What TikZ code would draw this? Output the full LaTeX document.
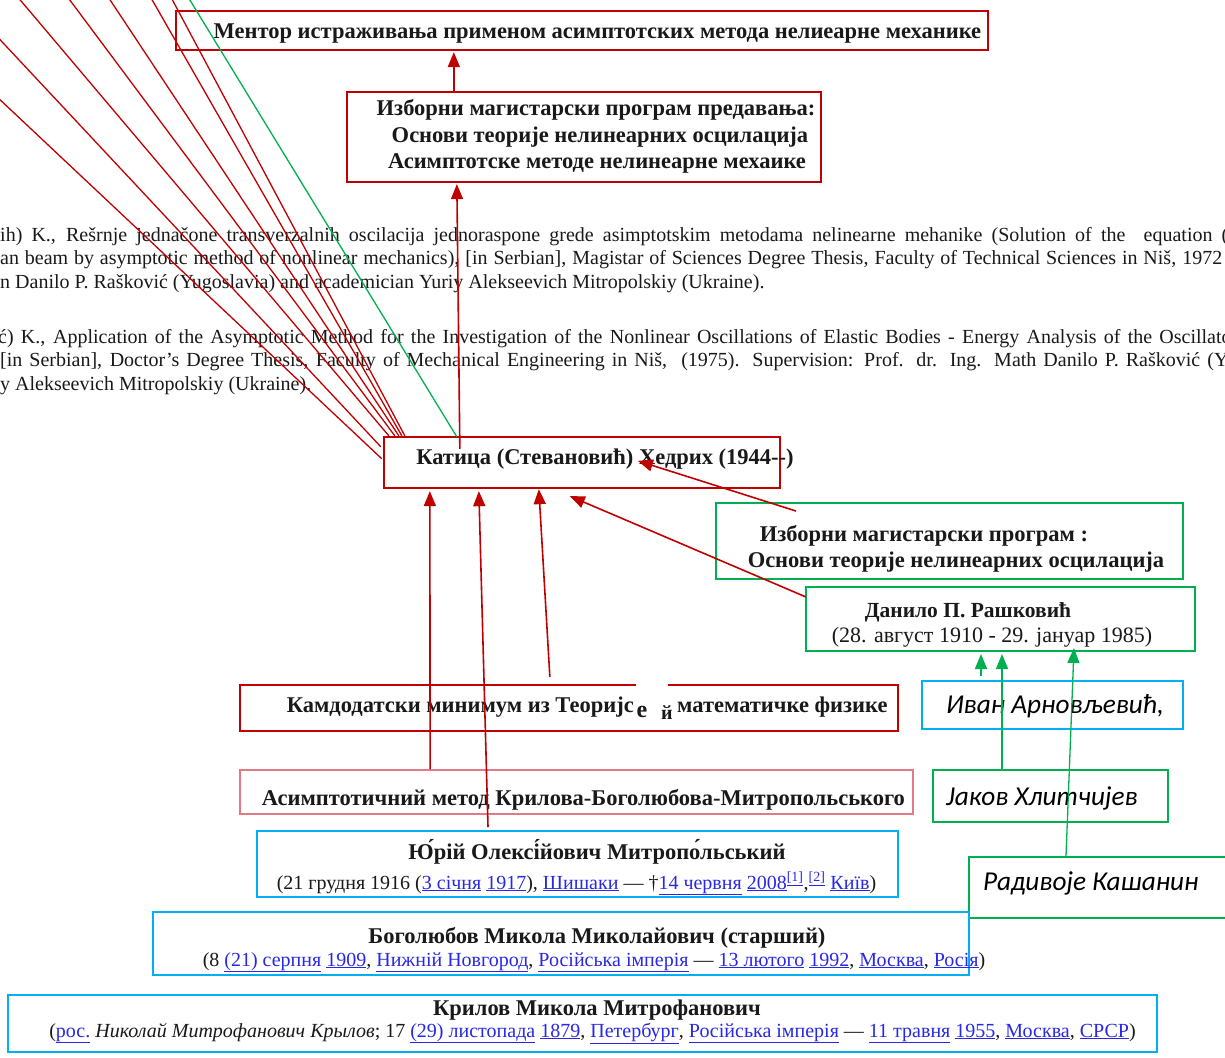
\documentclass[tikz,border=0pt]{standalone}
\usepackage{fontspec}
\setmainfont{Liberation Serif}
\newfontfamily\calib{Carlito}
\usetikzlibrary{arrows.meta,calc}
\definecolor{dred}{HTML}{C00000}
\definecolor{dgreen}{HTML}{00B050}
\definecolor{dcyan}{HTML}{00B0F0}
\definecolor{pinkb}{RGB}{228,120,135}
\definecolor{lnkblue}{RGB}{40,40,230}
\definecolor{txtgray}{RGB}{25,25,25}
\newcommand{\lk}[1]{{\color{lnkblue}\underline{#1}}}
\begin{document}
\begin{tikzpicture}[x=1pt,y=-1pt,
  rbox/.style={draw=dred, line width=2.3pt, inner sep=0pt},
  gbox/.style={draw=dgreen, line width=2pt, inner sep=0pt},
  cbox/.style={draw=dcyan, line width=2pt, inner sep=0pt},
  pbox/.style={draw=pinkb, line width=1.8pt, inner sep=0pt},
  bt/.style={font=\fontsize{22.5}{26}\selectfont\bfseries, inner sep=0pt, anchor=base, text=txtgray},
  rt/.style={font=\fontsize{20}{24}\selectfont, inner sep=0pt, anchor=base, text=txtgray},
  pt/.style={font=\fontsize{20}{24}\selectfont, inner sep=0pt, anchor=base west, text=txtgray},
  ct/.style={font=\fontsize{27.3}{31}\selectfont\calib\itshape, inner sep=0pt, anchor=base west, text=black},
  ra/.style={draw=dred, line width=1.6pt, -{Triangle[length=15pt,width=12pt]}},
  ga/.style={draw=dgreen, line width=1.8pt, -{Triangle[length=15pt,width=12pt]}},
  rl/.style={draw=dred, line width=1.3pt},
  gl/.style={draw=dgreen, line width=1.3pt}]
\useasboundingbox (0,0) rectangle (1225,1057);
\fill[white] (0,0) rectangle (1225,1057);
\clip (0,0) rectangle (1225,1057);

% reference paragraphs
\node[pt] (p1a) at (0,241) {\makebox[1228pt][s]{ih) K., Rešrnje jednačone transverzalnih oscilacija jednoraspone grede asimptotskim metodama nelinearne mehanike (Solution of the\ \ equation (}};
\node[pt] (p1b) at (0,264) {\makebox[1222pt][s]{an beam by asymptotic method of nonlinear mechanics), [in Serbian], Magistar of Sciences Degree Thesis, Faculty of Technical Sciences in Niš, 1972}};
\node[pt] (p1c) at (0,288) {n Danilo P. Rašković (Yugoslavia) and academician Yuriy Alekseevich Mitropolskiy (Ukraine).};
\node[pt] (p2a) at (-2,343) {\makebox[1240pt][s]{ć) K., Application of the Asymptotic Method for the Investigation of the Nonlinear Oscillations of Elastic Bodies - Energy Analysis of the Oscillator}};
\node[pt] (p2b) at (0,366) {\makebox[1236pt][s]{[in Serbian], Doctor’s Degree Thesis, Faculty of Mechanical Engineering in Niš,\ \ (1975). Supervision: Prof. dr. Ing. Math Danilo P. Rašković (Yu}};
\node[pt] (p2c) at (0,390) {y Alekseevich Mitropolskiy (Ukraine).};

% boxes
\node[rbox, minimum width=812pt, minimum height=39pt] (mentor) at (582,30.5) {};
\node[rbox, minimum width=474pt, minimum height=90pt] (izbm) at (584,137) {};
\node[rbox, minimum width=396pt, minimum height=51pt] (kat) at (582,462.5) {};
\node[gbox, minimum width=467pt, minimum height=76pt] (izbg) at (949.5,541) {};
\node[gbox, minimum width=389pt, minimum height=64pt] (dan) at (1000.5,619) {};
\node[cbox, minimum width=261pt, minimum height=48pt] (ivan) at (1052.5,705) {};
\node[gbox, minimum width=235pt, minimum height=52pt] (jakov) at (1050.5,796) {};
\node[gbox, minimum width=270pt, minimum height=61pt] (rad) at (1104,887.5) {};
\node[rbox, minimum width=658pt, minimum height=46pt] (kand) at (569,708) {};
\node[pbox, minimum width=673pt, minimum height=44pt] (asim) at (576.5,792) {};
\node[cbox, minimum width=641pt, minimum height=66pt] (mit) at (577.5,864) {};
\node[cbox, minimum width=816pt, minimum height=63pt] (bog) at (561,943.5) {};
\node[cbox, minimum width=1149pt, minimum height=57pt] (kry) at (582.5,1023.5) {};

% texts
\node[bt] (tmentor) at (597.5,39) {Ментор истраживања применом асимптотских метода нелиеарне механике};
\node[bt] (tizb1) at (596,115) {Изборни магистарски програм предавања:};
\node[bt] (tizb2) at (600,142) {Основи теорије нелинеарних осцилација};
\node[bt] (tizb3) at (597,168) {Асимптотске методе нелинеарне мехаике};
\node[bt] (tkat) at (605,464) {Катица (Стевановић) Хедрих (1944-{}-)};
\node[bt] (tizg1) at (924,541) {Изборни магистарски програм :};
\node[bt] (tizg2) at (956,567) {Основи теорије нелинеарних осцилација};
\node[bt, font=\fontsize{21.5}{25}\selectfont\bfseries] (tdan1) at (968,617) {Данило П. Рашковић};
\node[rt, font=\fontsize{22}{26}\selectfont] (tdan2) at (992,642) {(28. август 1910 - 29. јануар 1985)};
\node[ct] (tivan) at (946,713) {Иван Арновљевић,};
\node[ct] (tjak) at (946,805) {Јаков Хлитчијев};
\node[ct] (trad) at (983,890) {Радивоје Кашанин};
\node[bt, anchor=base east] (tkand1) at (634,712) {Камдодатски минимум из Теоријс};
\node[bt, anchor=base west] (tkand2) at (677,712) {математичке физике};
\node[bt] (tasim) at (583.5,805) {Асимптотичний метод Крилова-Боголюбова-Митропольського};
\node[bt] (tmit1) at (597,859) {Ю́рій Олексі́йович Митропо́льський};
\node[rt] (tmit2) at (576.5,889) {(21 грудня 1916 (\lk{3 січня} \lk{1917}), \lk{Шишаки} — †\lk{14 червня} \lk{2008}{\color{lnkblue}\textsuperscript{\underline{[1]}}},{\color{lnkblue}\textsuperscript{\underline{[2]}}} \lk{Київ})};
\node[bt] (tbog1) at (597,943) {Боголюбов Микола Миколайович (старший)};
\node[rt] (tbog2) at (594,966) {(8 \lk{(21) серпня} \lk{1909}, \lk{Нижній Новгород}, \lk{Російська імперія} — \lk{13 лютого} \lk{1992}, \lk{Москва}, \lk{Росія})};
\node[bt] (tkry1) at (597,1015) {Крилов Микола Митрофанович};
\node[rt] (tkry2) at (592.5,1037) {(\lk{рос.} \textit{Николай Митрофанович Крылов}; 17 \lk{(29) листопада} \lk{1879}, \lk{Петербург}, \lk{Російська імперія} — \lk{11 травня} \lk{1955}, \lk{Москва}, \lk{СРСР})};

% patch over the candidate-minimum box
\fill[white] (636,680) rectangle (668,722);
\node[font=\fontsize{24}{28}\selectfont\bfseries, inner sep=0pt, anchor=base, text=txtgray] (pe) at (642,717) {е};
\node[font=\fontsize{20}{24}\selectfont\bfseries, inner sep=0pt, anchor=base, text=txtgray] (pj) at (667,719) {й};

% lines towards the top-left (off picture)
\coordinate (o1) at (-38,64);
\coordinate (o2) at (-38,-1);
\coordinate (o3) at (-17,-44);
\coordinate (o4) at (37,-44);
\coordinate (o5) at (81,-44);
\coordinate (o6) at (127,-44);
\coordinate (o7) at (149,-44);
\coordinate (o8) at (163,-44);
\draw[rl] ($(kat.north west)+(-1,23)$) -- (o1);
\draw[rl] ($(kat.north west)+(-2,11)$) -- (o2);
\draw[rl] ($(kat.north west)+(6,0)$) -- (o3);
\draw[rl] ($(kat.north west)+(12,0)$) -- (o4);
\draw[rl] ($(kat.north west)+(16,0)$) -- (o5);
\draw[rl] ($(kat.north west)+(19,0)$) -- (o6);
\draw[rl] ($(kat.north west)+(22,0)$) -- (o7);
\draw[gl] ($(kat.north west)+(74,1)$) -- (o8);

% arrows
\draw[ra] ($(izbm.north west)+(108,0)$) -- ($(mentor.south west)+(279,1)$);
\draw[ra] ($(kat.north west)+(77,13)$) -- ($(izbm.south west)+(111,1)$);
\draw[ra] ($(asim.north west)+(191,0)$) -- ($(kat.south west)+(47,2)$);
\draw[ra] ($(mit.north west)+(232,-3)$) -- ($(kat.south west)+(96,2)$);
\draw[ra] ($(kand.north west)+(311,-7)$) -- ($(kat.south west)+(156,0)$);
\draw[ra] ($(dan.north west)+(1,11)$) -- ($(kat.south west)+(187,7)$);
\draw[ra] ($(izbg.north west)+(81,9)$) -- ($(kat.north west)+(255,25)$);
\draw[ga] ($(ivan.north west)+(60,-4)$) -- ($(dan.south west)+(176,2)$);
\draw[ga] ($(jakov.north west)+(70,0)$) -- ($(dan.south west)+(197,2)$);
\draw[ga, line width=1.3pt] ($(rad.north west)+(98,0)$) -- ($(dan.south west)+(269,-4)$);
\end{tikzpicture}
\end{document}
